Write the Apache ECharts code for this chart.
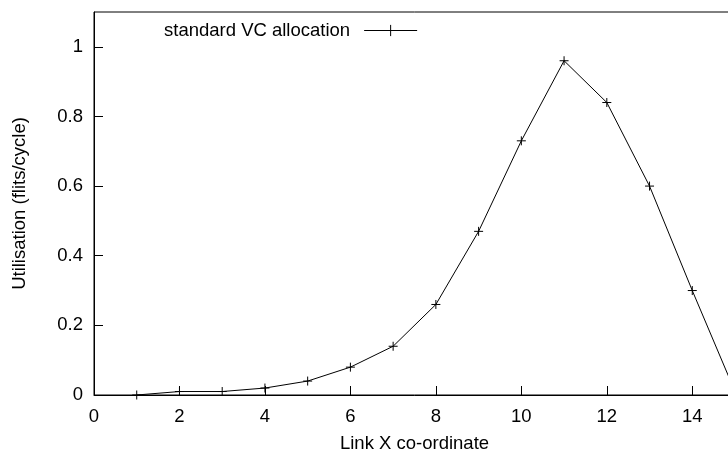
<!DOCTYPE html>
<html>
<head>
<meta charset="utf-8">
<script src="https://cdn.jsdelivr.net/npm/echarts@6/dist/echarts.min.js"></script>
<style>
  html, body { margin: 0; padding: 0; background: #fff; overflow: hidden; width: 728px; height: 458px; }
  /* the plot box runs a few pixels past the right edge of the page */
  #chart { width: 744px; height: 458px; }
</style>
</head>
<body>
<div id="chart"></div>
<script>
// Link utilisation along the X direction
const linkX = [1, 2, 3, 4, 5, 6, 7, 8, 9, 10, 11, 12, 13, 14, 15];
const utilisation = [0, 0.01, 0.01, 0.02, 0.04, 0.08, 0.14, 0.26, 0.47, 0.73, 0.96, 0.84, 0.60, 0.30, 0.01];
const seriesName = 'standard VC allocation';
const xTitle = 'Link X co-ordinate';
const yTitle = 'Utilisation (flits/cycle)';

const FONT = '"Liberation Sans", Arial, sans-serif';
const FS = 18.5;
const plus = 'path://M0,5L10,5M5,0L5,10';

const chart = echarts.init(document.getElementById('chart'), null, { renderer: 'canvas', width: 744, height: 458 });

chart.setOption({
  animation: false,
  backgroundColor: '#fff',
  textStyle: { fontFamily: FONT, color: '#000' },
  grid: {
    left: 94, top: 12, width: 641, height: 391,
    show: true, borderColor: '#000', borderWidth: 1, backgroundColor: 'transparent'
  },
  legend: {
    data: [seriesName],
    left: 164, top: 21,
    padding: 0,
    align: 'right',
    itemWidth: 53, itemHeight: 14,
    lineStyle: { width: 1, color: '#000' },
    itemStyle: { color: '#000', borderColor: '#000', borderWidth: 1 },
    textStyle: { fontFamily: FONT, fontSize: FS, color: '#000', padding: [0, 9, 0, 0] }
  },
  xAxis: {
    type: 'value',
    min: 0, max: 15, interval: 2,
    name: xTitle, nameLocation: 'middle', nameGap: 39,
    nameTextStyle: { fontFamily: FONT, fontSize: FS, color: '#000' },
    axisLine: { show: true, lineStyle: { color: '#000', width: 1 } },
    axisTick: { show: true, inside: true, length: 9, lineStyle: { color: '#000', width: 1 } },
    axisLabel: { fontFamily: FONT, fontSize: FS, color: '#000', margin: 12, showMaxLabel: false },
    splitLine: { show: false }
  },
  yAxis: {
    type: 'value',
    min: 0, max: 1.1, interval: 0.2,
    name: yTitle, nameLocation: 'middle', nameGap: 65, nameRotate: 90,
    nameTextStyle: { fontFamily: FONT, fontSize: FS, color: '#000' },
    axisLine: { show: true, lineStyle: { color: '#000', width: 1 } },
    axisTick: { show: true, inside: true, length: 9, lineStyle: { color: '#000', width: 1 } },
    axisLabel: { fontFamily: FONT, fontSize: FS, color: '#000', margin: 11, showMaxLabel: false },
    splitLine: { show: false }
  },
  series: [{
    name: seriesName,
    type: 'line',
    data: linkX.map((x, i) => [x, utilisation[i]]),
    symbol: plus,
    symbolSize: 9,
    showAllSymbol: true,
    lineStyle: { color: '#000', width: 1 },
    itemStyle: { color: '#000', borderColor: '#000', borderWidth: 1 },
    emphasis: { disabled: true }
  }]
});
</script>
</body>
</html>
